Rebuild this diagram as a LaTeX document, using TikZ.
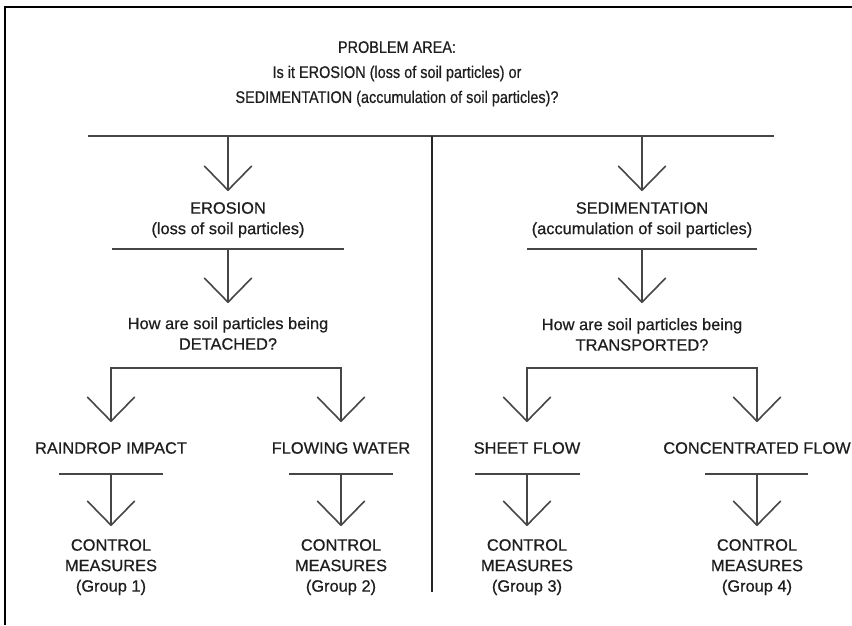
\documentclass[tikz,border=0pt]{standalone}
\usepackage{fontspec}
\setmainfont[FakeBold=0.6]{Liberation Sans}
\newfontfamily\titlefont[FakeStretch=0.86,FakeBold=0.6]{Liberation Sans}
\usetikzlibrary{arrows.meta}
\definecolor{ink}{RGB}{30,30,30}
\definecolor{ln}{RGB}{70,70,70}
\begin{document}
\begin{tikzpicture}[x=1pt,y=-1pt,
  txt/.style={font=\fontsize{16.4}{20.5}\selectfont, text=ink, align=center, inner xsep=0pt, anchor=north},
  ttl/.style={font=\titlefont\fontsize{16.8}{25}\selectfont, text=ink, align=center, inner sep=0pt, anchor=north},
  wire/.style={draw=ln, line width=1.6pt},
  barb/.tip={Straight Barb[length=24pt,width=47pt,round]},
  arr/.style={wire, -barb},
  barr/.style={wire, barb-barb},
]
\useasboundingbox (0,0) rectangle (852,625);
\fill[white] (0,0) rectangle (852,625);
\draw[line width=2pt, black] (5,625) -- (5,6.5) -- (852,6.5);

% title
\node[ttl] (title) at (397,41) {PROBLEM AREA:\\Is it EROSION (loss of soil particles) or\\SEDIMENTATION (accumulation of soil particles)?};

% top bar and divider
\coordinate (hl) at (88,136);
\coordinate (hr) at (774,136);
\coordinate (dtop) at (432,136);
\coordinate (dbot) at (432,592);
\coordinate (aL) at (228,136);
\coordinate (aR) at (642,136);
\draw[wire] (hl) -- (hr);
\draw[line width=1.8pt, black!85] (dtop) -- (dbot);

% left branch
\node[txt, inner ysep=11pt] (ero) at (228,191) {EROSION\\(loss of soil particles)};
\draw[arr] (aL) -- (ero.north);
\coordinate (u1a) at (112,249); \coordinate (u1b) at (344,249); \coordinate (u1m) at (228,249);
\draw[wire] (u1a) -- (u1b);
\node[txt, inner ysep=14pt] (q1) at (228,303) {How are soil particles being\\DETACHED?};
\draw[arr] (u1m) -- (q1.north);

\node[txt, inner ysep=20pt] (rain) at (111,422) {RAINDROP IMPACT};
\node[txt, inner ysep=20pt] (flow) at (341,422) {FLOWING WATER};
\coordinate (b1l) at (111,368); \coordinate (b1r) at (341,368);
\draw[barr] (rain.north) -- (b1l) -- (b1r) -- (flow.north);

\coordinate (u2a) at (59,474); \coordinate (u2b) at (163,474); \coordinate (u2m) at (111,474);
\draw[wire] (u2a) -- (u2b);
\node[txt, inner ysep=13pt] (cm1) at (111,526) {CONTROL\\MEASURES\\(Group 1)};
\draw[arr] (u2m) -- (cm1.north);

\coordinate (u3a) at (289,474); \coordinate (u3b) at (393,474); \coordinate (u3m) at (341,474);
\draw[wire] (u3a) -- (u3b);
\node[txt, inner ysep=13pt] (cm2) at (341,526) {CONTROL\\MEASURES\\(Group 2)};
\draw[arr] (u3m) -- (cm2.north);

% right branch
\node[txt, inner ysep=11pt] (sed) at (642,191) {SEDIMENTATION\\(accumulation of soil particles)};
\draw[arr] (aR) -- (sed.north);
\coordinate (u4a) at (527,249); \coordinate (u4b) at (757,249); \coordinate (u4m) at (642,249);
\draw[wire] (u4a) -- (u4b);
\node[txt, inner ysep=15pt] (q2) at (642,303) {How are soil particles being\\TRANSPORTED?};
\draw[arr] (u4m) -- (q2.north);

\node[txt, inner ysep=20pt] (sheet) at (527,422) {SHEET FLOW};
\node[txt, inner ysep=20pt] (conc) at (757,422) {CONCENTRATED FLOW};
\coordinate (b2l) at (527,368); \coordinate (b2r) at (757,368);
\draw[barr] (sheet.north) -- (b2l) -- (b2r) -- (conc.north);

\coordinate (u5a) at (475,474); \coordinate (u5b) at (580,474); \coordinate (u5m) at (527,474);
\draw[wire] (u5a) -- (u5b);
\node[txt, inner ysep=13pt] (cm3) at (527,526) {CONTROL\\MEASURES\\(Group 3)};
\draw[arr] (u5m) -- (cm3.north);

\coordinate (u6a) at (705,474); \coordinate (u6b) at (808,474); \coordinate (u6m) at (757,474);
\draw[wire] (u6a) -- (u6b);
\node[txt, inner ysep=13pt] (cm4) at (757,526) {CONTROL\\MEASURES\\(Group 4)};
\draw[arr] (u6m) -- (cm4.north);
\end{tikzpicture}
\end{document}
